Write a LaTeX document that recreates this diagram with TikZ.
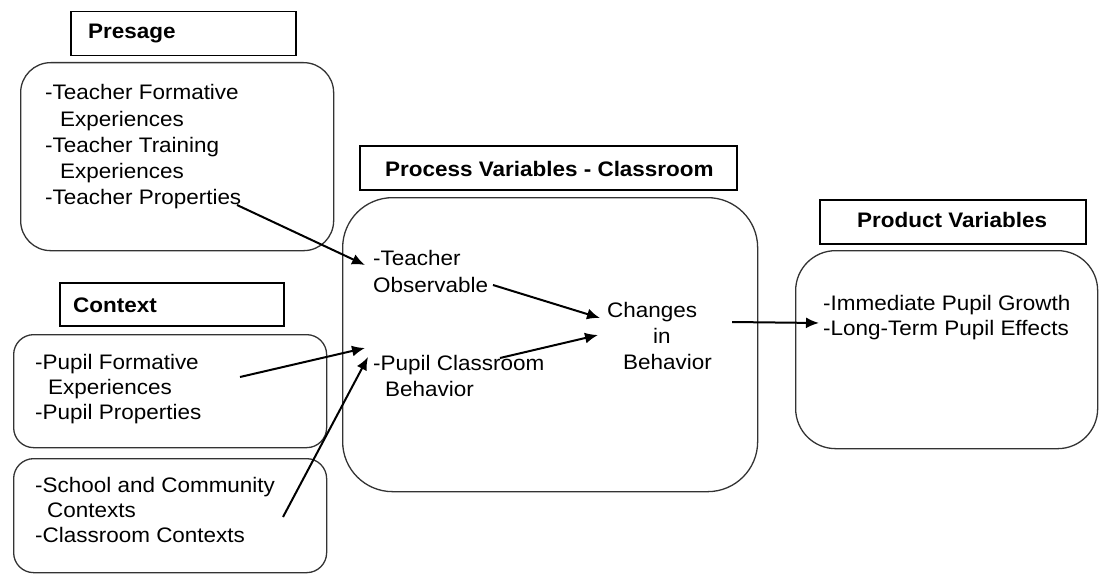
\documentclass[tikz,border=0pt]{standalone}
\usepackage{fontspec}
\setmainfont{Liberation Sans}[FakeStretch=1.07]
\usetikzlibrary{arrows.meta}
\tikzset{
  rbox/.style={draw=black!80, line width=1.3pt, anchor=north west, inner sep=0pt},
  hbox/.style={draw=black, line width=1.5pt, anchor=north west, inner sep=0pt},
  txt/.style={anchor=base west, inner sep=0pt, font=\fontsize{21}{24}\selectfont},
  htxt/.style={anchor=base west, inner sep=0pt, font=\fontsize{21}{24}\selectfont\bfseries},
  arr/.style={line width=2pt, -{Latex[length=13pt,width=11pt]}},
}
\begin{document}
\begin{tikzpicture}[x=1pt,y=-1pt]
\useasboundingbox (0,0) rectangle (1099,575);
% heading boxes
\node[hbox, minimum width=225pt, minimum height=44pt] (hpres) at (70,11) {};
\node[hbox, minimum width=224pt, minimum height=43pt] (hcont) at (59,282) {};
\node[hbox, minimum width=377pt, minimum height=44pt] (hproc) at (359,145) {};
\node[hbox, minimum width=266pt, minimum height=44pt] (hprod) at (819,199) {};
\node[htxt] (tpres) at (88,39) {Presage};
\node[htxt] (tcont) at (73,312) {Context};
\node[htxt] (tproc) at (385,176) {Process Variables - Classroom};
\node[htxt] (tprod) at (857,227) {Product Variables};
% rounded boxes
\node[rbox, rounded corners=30pt, minimum width=313pt, minimum height=188pt] (bpres) at (20,62) {};
\node[rbox, rounded corners=20pt, minimum width=313pt, minimum height=113pt] (bcont1) at (13,334) {};
\node[rbox, rounded corners=20pt, minimum width=313pt, minimum height=114pt] (bcont2) at (13,458) {};
\node[rbox, rounded corners=50pt, minimum width=415pt, minimum height=294pt] (bproc) at (342,197) {};
\node[rbox, rounded corners=40pt, minimum width=302pt, minimum height=198pt] (bprod) at (795,250) {};
% presage text
\node[txt] (p1) at (45,100) {-Teacher Formative};
\node[txt] (p2) at (60,126) {Experiences};
\node[txt] (p3) at (45,152) {-Teacher Training};
\node[txt] (p4) at (60,178) {Experiences};
\node[txt] (p5) at (45,204) {-Teacher Properties};
% context text
\node[txt] (c1) at (35,369) {-Pupil Formative};
\node[txt] (c2) at (48,394) {Experiences};
\node[txt] (c3) at (35,419) {-Pupil Properties};
\node[txt] (c4) at (35,492) {-School and Community};
\node[txt] (c5) at (47,517) {Contexts};
\node[txt] (c6) at (35,542) {-Classroom Contexts};
% process text
\node[txt] (r1) at (373,265) {-Teacher};
\node[txt] (r2) at (373,292) {Observable};
\node[txt] (r3) at (373,370) {-Pupil Classroom};
\node[txt] (r4) at (385,396) {Behavior};
\node[txt] (g1) at (607,317) {Changes};
\node[txt] (g2) at (653,343) {in};
\node[txt] (g3) at (623,369) {Behavior};
% product text
\node[txt] (d1) at (823,310) {-Immediate Pupil Growth};
\node[txt] (d2) at (823,335) {-Long-Term Pupil Effects};
% connector end points
\coordinate (a1s) at (237,205);
\coordinate (a1e) at (365,265);
\coordinate (a2s) at (493,285);
\coordinate (a2e) at (600,318);
\coordinate (a3s) at (500,358);
\coordinate (a3e) at (598,335);
\coordinate (a4s) at (240,377);
\coordinate (a4e) at (365,348);
\coordinate (a5s) at (283,517);
\coordinate (a5e) at (368,357);
\coordinate (a6s) at (732,322);
\coordinate (a6e) at (819,323);
\draw[arr] (a1s) -- (a1e);
\draw[arr] (a2s) -- (a2e);
\draw[arr] (a3s) -- (a3e);
\draw[arr] (a4s) -- (a4e);
\draw[arr] (a5s) -- (a5e);
\draw[arr] (a6s) -- (a6e);
\end{tikzpicture}
\end{document}
